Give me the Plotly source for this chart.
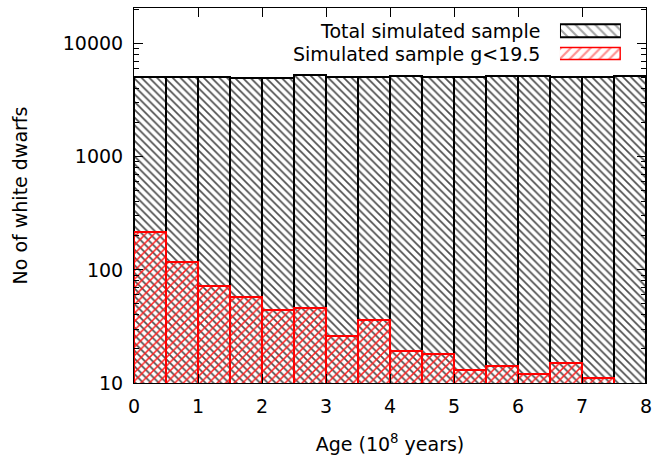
import plotly.graph_objects as go

# ---- data ----
bin_left = [0.0, 0.5, 1.0, 1.5, 2.0, 2.5, 3.0, 3.5, 4.0, 4.5, 5.0, 5.5, 6.0, 6.5, 7.0, 7.5]
bin_width = 0.5
total_sample = [5100, 5100, 5100, 4950, 4950, 5250, 5050, 5050, 5200, 5050, 5050, 5200, 5150, 5050, 5050, 5150]
bright_sample = [216, 117, 72, 58, 44, 46, 26, 36, 19, 18, 13, 14, 12, 15, 11, None]
series_names = ["Total simulated sample", "Simulated sample g<19.5"]
x_ticks = [0, 1, 2, 3, 4, 5, 6, 7, 8]
y_ticks = [10, 100, 1000, 10000]
y_minor = [m * 10 ** e for e in range(1, 5) for m in range(2, 10)]

centers = [b + bin_width / 2 for b in bin_left]
FONT = "DejaVu Sans"
FS = 19

fig = go.Figure()

fig.add_trace(go.Bar(
    x=centers, y=total_sample, width=bin_width, name=series_names[0],
    marker=dict(color="white", line=dict(color="black", width=2),
                pattern=dict(shape="\\", fgcolor="#4d4d4d", bgcolor="white",
                             size=5.5, solidity=0.3, fillmode="replace")),
    showlegend=False,
))
fig.add_trace(go.Bar(
    x=centers, y=bright_sample, width=bin_width, name=series_names[1],
    marker=dict(color="rgba(0,0,0,0)", line=dict(color="#ff0000", width=2),
                pattern=dict(shape="/", fgcolor="#ff2020", bgcolor="rgba(0,0,0,0)",
                             size=6, solidity=0.25, fillmode="replace")),
    showlegend=False,
))

# legend swatches (gnuplot-style: text then box on the right)
fig.add_trace(go.Bar(
    x=[1], y=[1], base=[0], orientation="h", width=0.58,
    xaxis="x2", yaxis="y2", showlegend=False, hoverinfo="skip",
    marker=dict(color="white", line=dict(color="black", width=2),
                pattern=dict(shape="\\", fgcolor="#4d4d4d", bgcolor="white",
                             size=7, solidity=0.3)),
))
fig.add_trace(go.Bar(
    x=[1], y=[0], base=[0], orientation="h", width=0.5,
    xaxis="x2", yaxis="y2", showlegend=False, hoverinfo="skip",
    marker=dict(color="white", line=dict(color="#ff0000", width=1.5),
                pattern=dict(shape="/", fgcolor="#ff2020", bgcolor="white",
                             size=7, solidity=0.3)),
))

axis_common = dict(
    showline=True, linecolor="black", linewidth=1, mirror="ticks",
    ticks="inside", ticklen=9, tickcolor="black", tickwidth=1,
    showgrid=False, zeroline=False, ticklabelstandoff=6,
    tickfont=dict(family=FONT, size=FS, color="black"),
)

fig.update_layout(
    width=662, height=458,
    margin=dict(l=134, r=16, t=7, b=74),
    paper_bgcolor="white", plot_bgcolor="white",
    barmode="overlay", bargap=0,
    font=dict(family=FONT, size=FS, color="black"),
    xaxis=dict(range=[0, 8], tickvals=x_ticks,
               title=dict(text="Age (10<sup>8</sup> years)", font=dict(family=FONT, size=FS), standoff=21),
               **axis_common),
    yaxis=dict(type="log", range=[1, 4.315], tickvals=y_ticks,
               ticktext=[str(v) for v in y_ticks],
               minor=dict(tickmode="array", tickvals=y_minor, ticks="inside", ticklen=5,
                          tickcolor="black", tickwidth=1, showgrid=False),
               title=dict(text="No of white dwarfs", font=dict(family=FONT, size=FS), standoff=30),
               **axis_common),
    xaxis2=dict(domain=[0.832, 0.951], range=[0, 1], visible=False, fixedrange=True, anchor="y2"),
    yaxis2=dict(domain=[0.8455, 0.9702], range=[-0.5, 1.5], visible=False, fixedrange=True,
                anchor="x2"),
    showlegend=False,
)

for txt, ypos in zip(series_names, [0.939, 0.878]):
    fig.add_annotation(text=txt, xref="paper", yref="paper", x=0.797, y=ypos,
                       xanchor="right", yanchor="middle", showarrow=False,
                       font=dict(family=FONT, size=FS, color="black"))

fig.write_html("out.html")
